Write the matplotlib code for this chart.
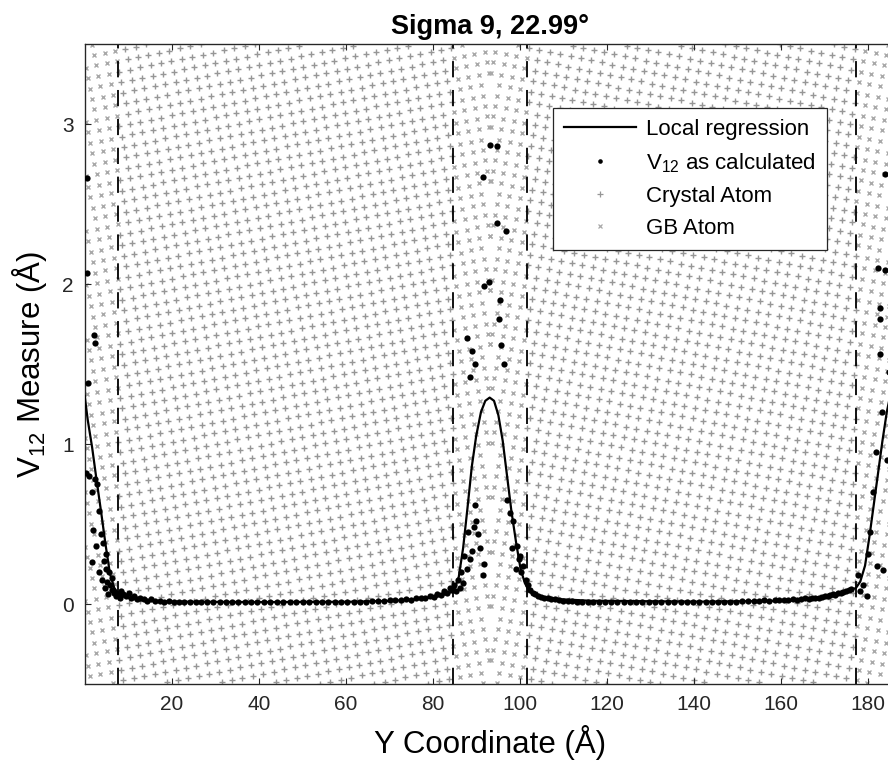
import numpy as np
import matplotlib.pyplot as plt
from matplotlib.lines import Line2D

plt.rcParams['font.family'] = ['Liberation Sans', 'DejaVu Sans']
plt.rcParams['mathtext.fontset'] = 'custom'
plt.rcParams['mathtext.rm'] = 'Liberation Sans'
plt.rcParams['mathtext.it'] = 'Liberation Sans:italic'

# local regression curve (Y coordinate in Å, V12 in Å)
fit_x = [0.0, 0.7, 1.7, 2.7, 3.8, 4.8, 5.8, 6.8, 7.8, 8.8, 9.9, 11.9, 14.9, 20.0,
         40.3, 60.6, 70.8, 75.8, 80.9, 82.9, 83.9, 85.0, 86.0, 87.0, 88.0, 89.0,
         90.0, 91.1, 92.1, 93.1, 94.1, 95.1, 96.1, 97.1, 98.1, 99.2, 100.2, 101.2,
         102.2, 103.2, 105.3, 109.3, 116.4, 141.8, 162.1, 168.2, 172.3, 175.3,
         177.3, 178.3, 179.4, 180.4, 181.4, 182.4, 183.4, 184.4, 185.4, 187.0]
fit_v12 = [1.30, 1.15, 0.98, 0.78, 0.57, 0.37, 0.19, 0.10, 0.065, 0.048, 0.038, 0.027,
           0.02, 0.015, 0.012, 0.014, 0.02, 0.028, 0.045, 0.06, 0.07, 0.09, 0.17,
           0.35, 0.60, 0.86, 1.05, 1.20, 1.27, 1.29, 1.27, 1.18, 1.02, 0.80, 0.58,
           0.38, 0.22, 0.13, 0.08, 0.06, 0.045, 0.03, 0.02, 0.015, 0.02, 0.04, 0.06,
           0.08, 0.10, 0.14, 0.24, 0.42, 0.62, 0.82, 1.02, 1.20, 1.33, 1.45]

# V12 as calculated
pts_x = [0.5, 0.5, 2.1, 2.4, 0.7, 0.4, 1.0, 2.3, 2.9, 1.7, 3.4, 2.0, 3.7, 4.2, 2.7,
         1.6, 4.4, 4.9, 3.4, 4.0, 5.2, 5.6, 4.7, 5.9, 6.3, 5.4, 6.7, 7.1, 7.6, 8.1,
         5.0, 6.2,
         8.4, 8.9, 9.5, 10.1, 10.7, 11.4, 12.0, 12.8, 13.6, 14.4, 15.3, 16.2, 17.2,
         18.2, 19.3, 20.5, 21.7, 22.9, 24.2, 25.5, 26.8, 28.2, 29.6, 31.0, 32.4,
         33.9, 35.3, 36.8, 38.3, 39.7, 41.2, 42.7, 44.2, 45.7, 47.2, 48.6, 50.1,
         51.6, 53.1, 54.5, 56.0, 57.5, 59.0, 60.4, 61.8, 63.3, 64.7, 66.1, 67.5,
         68.8, 70.1, 71.4, 72.7, 73.9, 75.1, 76.2, 77.3, 78.3, 79.3, 80.2, 81.0,
         81.8, 82.6, 83.3, 83.9, 84.5,
         85.0, 85.4, 85.8, 86.3, 86.6, 87.0, 87.3, 87.9, 88.2, 88.6, 89.0, 89.5,
         90.0, 90.4, 89.8, 90.9, 91.5, 91.9, 93.2, 94.7, 91.5, 94.8, 96.8, 91.7,
         93.0, 95.5, 95.3, 88.0, 89.0, 89.8, 88.6, 95.6, 96.3, 97.2, 97.8, 98.5,
         98.2, 99.4, 99.8, 100.3, 100.7, 101.4, 101.8, 99.1, 100.1,
         102.4, 103.0, 103.6, 104.2, 104.9, 105.6, 106.4, 107.2, 108.1, 109.0,
         110.0, 111.0, 112.1, 113.2, 114.4, 115.6, 116.9, 118.2, 119.6, 121.0,
         122.4, 123.9, 125.3, 126.8, 128.2, 129.7, 131.2, 132.6, 134.1, 135.5,
         137.0, 138.4, 139.9, 141.3, 142.8, 144.2, 145.6, 147.0, 148.4, 149.8,
         151.2, 152.5, 153.8, 155.0, 156.2, 157.4, 158.6, 159.7, 160.8, 161.8,
         162.8, 163.8, 164.7, 165.6, 166.4, 167.2, 168.0, 168.7, 169.4, 170.1,
         170.8, 171.4, 172.0, 172.6, 173.2, 173.8, 174.4, 175.0, 175.6, 176.2,
         184.0, 182.4, 183.9, 182.8, 182.8, 182.8, 184.9, 183.4, 181.9, 181.2,
         180.1, 182.1, 183.5, 179.8, 178.9, 180.6, 184.4, 177.7, 178.3]
pts_v12 = [2.66, 2.07, 1.68, 1.63, 1.38, 0.82, 0.80, 0.78, 0.75, 0.70, 0.58, 0.46,
           0.44, 0.38, 0.36, 0.26, 0.27, 0.22, 0.20, 0.15, 0.14, 0.20, 0.10, 0.12,
           0.09, 0.06, 0.07, 0.05, 0.06, 0.04, 0.31, 0.16,
           0.08, 0.06, 0.05, 0.07, 0.04, 0.05, 0.03, 0.04, 0.03, 0.02, 0.03, 0.02,
           0.02, 0.015, 0.02, 0.015, 0.01, 0.015, 0.01, 0.012, 0.01, 0.012, 0.01,
           0.012, 0.01, 0.01, 0.012, 0.01, 0.01, 0.012, 0.01, 0.01, 0.012, 0.01,
           0.01, 0.012, 0.01, 0.01, 0.012, 0.01, 0.012, 0.01, 0.012, 0.015, 0.012,
           0.015, 0.015, 0.018, 0.02, 0.018, 0.022, 0.025, 0.022, 0.03, 0.028,
           0.035, 0.04, 0.035, 0.05, 0.045, 0.06, 0.055, 0.08, 0.07, 0.10, 0.09,
           0.12, 0.08, 0.15, 0.10, 0.20, 0.13, 0.30, 0.22, 0.45, 0.28, 0.33, 0.48,
           0.52, 0.44, 0.62, 0.35, 0.18, 0.25, 2.87, 2.86, 2.67, 2.38, 2.33, 1.99,
           2.01, 1.90, 1.78, 1.66, 1.58, 1.50, 1.42, 1.62, 1.50, 0.65, 0.57, 0.52,
           0.35, 0.36, 0.28, 0.20, 0.24, 0.15, 0.12, 0.22, 0.30,
           0.09, 0.07, 0.06, 0.05, 0.045, 0.04, 0.035, 0.03, 0.03, 0.025,
           0.02, 0.02, 0.018, 0.015, 0.015, 0.012, 0.012, 0.01, 0.012, 0.01,
           0.01, 0.012, 0.01, 0.01, 0.012, 0.01, 0.01, 0.012, 0.01, 0.01,
           0.012, 0.01, 0.012, 0.01, 0.012, 0.012, 0.015, 0.012, 0.015, 0.015,
           0.018, 0.02, 0.018, 0.02, 0.022, 0.02, 0.024, 0.025, 0.022, 0.028,
           0.03, 0.028, 0.032, 0.035, 0.03, 0.038, 0.04, 0.036, 0.045, 0.05,
           0.048, 0.055, 0.06, 0.058, 0.066, 0.07, 0.075, 0.08, 0.09, 0.095,
           2.69, 2.10, 2.09, 1.85, 1.78, 1.56, 1.45, 1.20, 0.95, 0.70, 0.31, 0.24,
           0.21, 0.05, 0.12, 0.45, 0.90, 0.18, 0.08]

# grain boundary limits (dashed lines) and crystal lattice
gb_edges = [7.7, 84.7, 101.6, 177.4]
grain_ranges = [(0.0, 93.2), (93.2, 186.4)]
grain_tilt = [11.5, -11.5]      # degrees
lattice_spacing = 2.45          # Å
box_height = 147.0              # Å, vertical extent of the slab shown

fig = plt.figure(figsize=(8.88, 7.67), dpi=100)
ax = fig.add_axes([84.7 / 888, 83 / 767, 810.8 / 888, 640 / 767])
ax_bg = ax.twinx()
ax.set_zorder(ax_bg.get_zorder() + 1)
ax.patch.set_visible(False)

# atoms of both grains
cryst_x, cryst_z, gb_x, gb_z = [], [], [], []
n = int(box_height / lattice_spacing) * 2
for (x0, x1), tilt in zip(grain_ranges, grain_tilt):
    t = np.deg2rad(tilt)
    i, j = np.meshgrid(np.arange(-n, n), np.arange(-n, n))
    px = lattice_spacing * (i * np.cos(t) - j * np.sin(t)) + (x0 + x1) / 2
    pz = lattice_spacing * (i * np.sin(t) + j * np.cos(t)) + box_height / 2
    keep = (px >= x0) & (px < x1) & (pz >= 0) & (pz <= box_height)
    px, pz = px[keep], pz[keep]
    in_gb = (px < gb_edges[0]) | ((px > gb_edges[1]) & (px < gb_edges[2])) | (px > gb_edges[3])
    cryst_x += list(px[~in_gb]); cryst_z += list(pz[~in_gb])
    gb_x += list(px[in_gb]); gb_z += list(pz[in_gb])

ax_bg.plot(cryst_x, cryst_z, '+', color='#969696', ms=3.8, mew=1.0, ls='none')
ax_bg.plot(gb_x, gb_z, 'x', color='#a8a8a8', ms=3.4, mew=1.0, ls='none')
ax_bg.set_ylim(0, box_height)
ax_bg.set_yticks([])

for xe in gb_edges:
    ax.axvline(xe, color='black', lw=1.3, ls=(0, (9, 7)), zorder=2)

ax.plot(pts_x, pts_v12, 'o', color='black', ms=4.5, mew=0, ls='none', zorder=3)
ax.plot(fit_x, fit_v12, color='black', lw=1.6, zorder=4)

ax.set_xlim(0, 186.4)
ax.set_ylim(-0.5, 3.5)
ax.set_xticks([20, 40, 60, 80, 100, 120, 140, 160, 180])
ax.set_yticks([0, 1, 2, 3])
ax.tick_params(direction='in', length=4.5, width=0.8, labelsize=15, pad=8,
               top=True, right=True, colors='#262626')
for sp in ax.spines.values():
    sp.set_color('#262626')
    sp.set_linewidth(0.9)
ax.set_xlabel('Y Coordinate (Å)', fontsize=22.5, labelpad=8)
ax.set_ylabel(r'V$_{12}$ Measure (Å)', fontsize=22.5, labelpad=9)
ax.set_title('Sigma 9, 22.99°', fontsize=19.5, fontweight='bold', pad=7)

handles = [
    Line2D([], [], color='black', lw=1.6),
    Line2D([], [], marker='o', color='black', ms=3.3, mew=0, ls='none'),
    Line2D([], [], marker='+', color='#969696', ms=4, mew=0.9, ls='none'),
    Line2D([], [], marker='x', color='#a8a8a8', ms=3.4, mew=0.9, ls='none'),
]
labels = ['Local regression', r'V$_{12}$ as calculated', 'Crystal Atom', 'GB Atom']
leg = ax.legend(handles, labels, loc='upper left', bbox_to_anchor=(553 / 888, 1 - 108 / 767),
                bbox_transform=fig.transFigure, fontsize=16, frameon=True, fancybox=False,
                edgecolor='#262626', framealpha=1, handlelength=3.25, borderpad=0.5,
                labelspacing=0.5, handletextpad=0.45, borderaxespad=0)
leg.get_frame().set_linewidth(0.9)

fig.savefig('out.png', dpi=100)
